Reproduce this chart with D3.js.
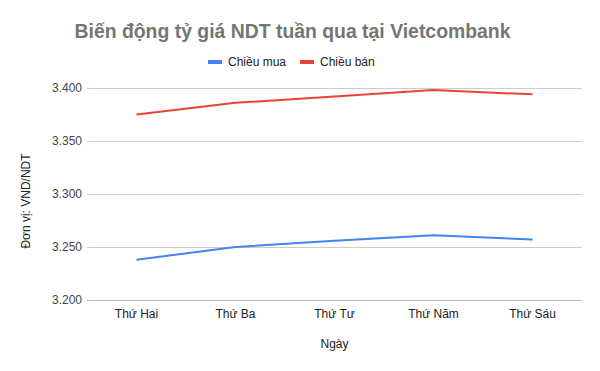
<!DOCTYPE html>
<html>
<head>
<meta charset="utf-8">
<script src="https://cdn.jsdelivr.net/npm/d3@7"></script>
<style>
  body { margin: 0; background: #fff; }
  svg text { font-family: "Liberation Sans", Arial, sans-serif; }
</style>
</head>
<body>
<div id="chart"></div>
<script>
// data
var days = ['Thứ Hai', 'Thứ Ba', 'Thứ Tư', 'Thứ Năm', 'Thứ Sáu'];
var muaValues = [3.238, 3.250, 3.256, 3.261, 3.257];
var banValues = [3.375, 3.386, 3.392, 3.398, 3.394];
var yTicks = [3.200, 3.250, 3.300, 3.350, 3.400];

var width = 600, height = 371;
var margin = {top: 88, right: 18, bottom: 71, left: 87};

var svg = d3.select('#chart').append('svg')
    .attr('width', width)
    .attr('height', height);

var x = d3.scalePoint()
    .domain(days)
    .range([margin.left, width - margin.right])
    .padding(0.5);

var y = d3.scaleLinear()
    .domain([3.2, 3.4])
    .range([height - margin.bottom, margin.top]);

// gridlines
svg.append('g')
    .selectAll('line')
    .data(yTicks)
    .enter()
  .append('line')
    .attr('x1', margin.left)
    .attr('x2', width - margin.right)
    .attr('y1', function(d){ return y(d); })
    .attr('y2', function(d){ return y(d); })
    .attr('stroke', function(d){ return d === 3.2 ? '#b7b7b7' : '#cccccc'; })
    .attr('stroke-width', 1)
    .attr('shape-rendering', 'crispEdges');

// y tick labels
var fmt = function(d){ return d3.format('.3f')(d); };
svg.append('g')
    .selectAll('text')
    .data(yTicks)
    .enter()
  .append('text')
    .attr('x', margin.left - 5)
    .attr('y', function(d){ return y(d) + 4; })
    .attr('text-anchor', 'end')
    .attr('font-size', 12)
    .attr('fill', '#444')
    .text(fmt);

// x tick labels
svg.append('g')
    .selectAll('text')
    .data(days)
    .enter()
  .append('text')
    .attr('x', function(d){ return x(d); })
    .attr('y', height - margin.bottom + 18)
    .attr('text-anchor', 'middle')
    .attr('font-size', 12)
    .attr('fill', '#222')
    .text(function(d){ return d; });

// lines
var line = d3.line()
    .x(function(d, i){ return x(days[i]); })
    .y(function(d){ return y(d); });

var series = [
    {name: 'Chiều mua', values: muaValues, color: '#4285f4'},
    {name: 'Chiều bán', values: banValues, color: '#ea4335'}
];

svg.selectAll('path.series')
    .data(series)
    .enter()
  .append('path')
    .attr('class', 'series')
    .attr('d', function(d){ return line(d.values); })
    .attr('fill', 'none')
    .attr('stroke', function(d){ return d.color; })
    .attr('stroke-width', 2);

// title
svg.append('text')
    .attr('x', 292.5)
    .attr('y', 38)
    .attr('text-anchor', 'middle')
    .attr('font-size', 19.4)
    .attr('font-weight', 'bold')
    .attr('fill', '#757575')
    .text('Biến động tỷ giá NDT tuần qua tại Vietcombank');

// legend
var legendX = [208, 300];
var lg = svg.append('g')
    .selectAll('g')
    .data(series)
    .enter()
  .append('g')
    .attr('transform', function(d, i){ return 'translate(' + legendX[i] + ',62)'; });
lg.append('rect')
    .attr('x', 0)
    .attr('y', -2)
    .attr('width', 14)
    .attr('height', 4)
    .attr('fill', function(d){ return d.color; });
lg.append('text')
    .attr('x', 20)
    .attr('y', 4)
    .attr('font-size', 12)
    .attr('fill', '#222')
    .text(function(d){ return d.name; });

// axis titles
svg.append('text')
    .attr('x', (margin.left + width - margin.right) / 2)
    .attr('y', 348)
    .attr('text-anchor', 'middle')
    .attr('font-size', 12)
    .attr('fill', '#222')
    .text('Ngày');

svg.append('text')
    .attr('transform', 'translate(30,201) rotate(-90)')
    .attr('text-anchor', 'middle')
    .attr('font-size', 12)
    .attr('fill', '#222')
    .text('Đơn vị: VND/NDT');
</script>
</body>
</html>
